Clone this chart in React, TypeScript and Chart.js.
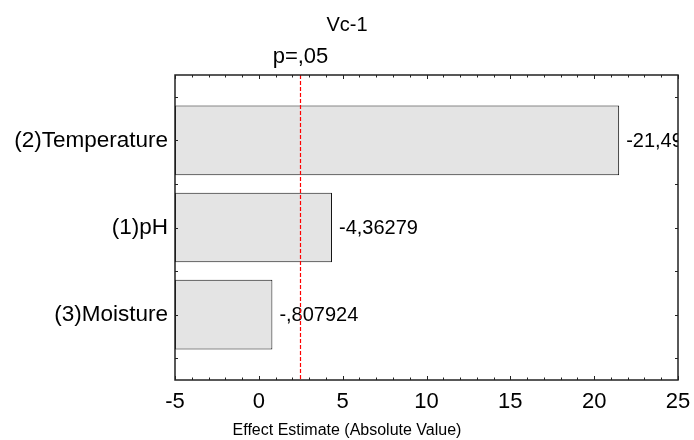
import { useEffect, useRef } from "react";
import { Chart, registerables } from "chart.js";

Chart.register(...registerables);

// Pareto chart of standardized effects
const chartTitle = "Vc-1";
const factors = ["(2)Temperature", "(1)pH", "(3)Moisture"];
const effects = [-21.49, -4.36279, -0.807924];
const factorPositions = [1, 2, 3];
const criticalValue = 2.4469;
const criticalLabel = "p=,05";
const xAxisTitle = "Effect Estimate (Absolute Value)";
const xMin = -5;
const xMax = 25;
const xStep = 5;
const yMin = 0.25;
const yMax = 3.75;

const FONT = "'Liberation Sans', Arial, sans-serif";

// "-0.807924" -> "-,807924", "-4.36279" -> "-4,36279"
const formatEffect = (v: number) =>
  String(v).replace(".", ",").replace(/^(-?)0,/, "$1,");

const decorPlugin = {
  id: "paretoDecor",
  afterDatasetsDraw(chart: any) {
    const { ctx, chartArea: a, scales } = chart;
    const x = scales.x;
    const y = scales.y;
    ctx.save();

    // effect values next to bars, clipped to the plot frame
    ctx.save();
    ctx.beginPath();
    ctx.rect(a.left, a.top, a.right - a.left, a.bottom - a.top);
    ctx.clip();
    ctx.fillStyle = "#000";
    ctx.font = `20px ${FONT}`;
    ctx.textAlign = "left";
    ctx.textBaseline = "middle";
    const meta = chart.getDatasetMeta(0);
    meta.data.forEach((bar: any, i: number) => {
      ctx.fillText(formatEffect(effects[i]), bar.x + 7, bar.y + 1);
    });
    ctx.restore();

    // significance threshold line
    const cx = Math.round(x.getPixelForValue(criticalValue)) + 0.5;
    ctx.strokeStyle = "#ff0000";
    ctx.lineWidth = 1.2;
    ctx.setLineDash([4, 2]);
    ctx.beginPath();
    ctx.moveTo(cx, a.top);
    ctx.lineTo(cx, a.bottom);
    ctx.stroke();
    ctx.setLineDash([]);

    // frame
    ctx.strokeStyle = "#222";
    ctx.lineWidth = 1.5;
    ctx.strokeRect(a.left, a.top, a.right - a.left, a.bottom - a.top);

    // inward tick marks
    ctx.lineWidth = 1;
    ctx.beginPath();
    for (let v = xMin; v <= xMax; v += 1) {
      const px = Math.round(x.getPixelForValue(v)) + 0.5;
      const len = v % xStep === 0 ? 4 : 2.5;
      ctx.moveTo(px, a.bottom);
      ctx.lineTo(px, a.bottom - len);
      ctx.moveTo(px, a.top);
      ctx.lineTo(px, a.top + len);
    }
    for (let v = 0.5; v < yMax; v += 0.5) {
      const py = Math.round(y.getPixelForValue(v)) + 0.5;
      ctx.moveTo(a.left, py);
      ctx.lineTo(a.left + 3, py);
      ctx.moveTo(a.right, py);
      ctx.lineTo(a.right - 3, py);
    }
    ctx.stroke();

    // titles
    const midX = chart.width / 2;
    ctx.fillStyle = "#000";
    ctx.textAlign = "center";
    ctx.textBaseline = "middle";
    ctx.font = `20px ${FONT}`;
    ctx.fillText(chartTitle, midX, 25);
    ctx.font = `22px ${FONT}`;
    ctx.fillText(criticalLabel, cx, 57);
    ctx.font = `16px ${FONT}`;
    ctx.fillText(xAxisTitle, midX, 431);

    ctx.restore();
  },
};

export default function App() {
  const canvasRef = useRef<HTMLCanvasElement | null>(null);

  useEffect(() => {
    if (!canvasRef.current) return;
    const chart = new Chart(canvasRef.current, {
      type: "bar",
      data: {
        datasets: [
          {
            data: factorPositions.map((p, i) => ({ y: p, x: Math.abs(effects[i]) })),
            base: xMin,
            backgroundColor: "#e4e4e4",
            borderColor: "#111",
            borderWidth: 1,
            borderSkipped: false,
            barPercentage: 0.8,
            categoryPercentage: 1,
          } as any,
        ],
      },
      options: {
        indexAxis: "y",
        animation: false,
        responsive: true,
        maintainAspectRatio: false,
        layout: { padding: { top: 75, right: 16, left: 0, bottom: 0 } },
        plugins: {
          legend: { display: false },
          tooltip: { enabled: false },
          title: { display: false },
        },
        scales: {
          x: {
            type: "linear",
            min: xMin,
            max: xMax,
            grid: { display: false, drawTicks: false },
            border: { display: false },
            ticks: {
              stepSize: xStep,
              padding: 9,
              color: "#000",
              font: { family: FONT, size: 22 },
              maxRotation: 0,
            },
            afterFit: (scale: any) => {
              scale.height = 60;
              scale.paddingLeft = 0;
              scale.paddingRight = 0;
            },
          },
          y: {
            type: "linear",
            min: yMin,
            max: yMax,
            reverse: true,
            offset: false,
            grid: { display: false, drawTicks: false, offset: false },
            border: { display: false },
            afterBuildTicks: (scale: any) => {
              scale.ticks = factorPositions.map((v) => ({ value: v }));
            },
            ticks: {
              padding: 7,
              color: "#000",
              font: { family: FONT, size: 22.5 },
              callback: (v: any) => factors[factorPositions.indexOf(Number(v))] ?? "",
            },
            afterFit: (scale: any) => {
              scale.width = 175;
              scale.paddingTop = 0;
              scale.paddingBottom = 0;
            },
          },
        },
      },
      plugins: [decorPlugin],
    });
    return () => chart.destroy();
  }, []);

  return (
    <div style={{ position: "absolute", left: 0, top: 0, width: 694, height: 440, background: "#fff" }}>
      <canvas ref={canvasRef} />
    </div>
  );
}
